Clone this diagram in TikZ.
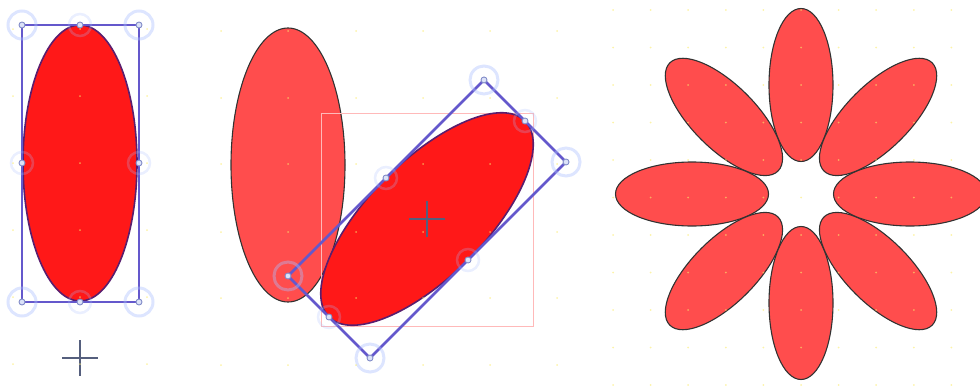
\documentclass[tikz,border=0pt]{standalone}
\usepackage{tikz}

\definecolor{boxblue}{RGB}{100,88,204}
\definecolor{haloblue}{RGB}{170,190,255}
\definecolor{gripline}{RGB}{130,140,200}
\definecolor{gripfill}{RGB}{220,226,248}
\definecolor{selred}{RGB}{255,24,24}
\definecolor{petalred}{RGB}{255,77,77}
\definecolor{rimpurple}{RGB}{90,30,110}
\definecolor{rimgray}{RGB}{50,50,50}
\definecolor{pinkline}{RGB}{255,185,185}
\definecolor{pinblue}{RGB}{85,95,125}
\definecolor{griddot}{RGB}{250,235,110}

\begin{document}
\begin{tikzpicture}[x=1pt,y=-1pt,
  frame/.style={draw=boxblue,line width=2.6pt},
  selected/.style={fill=selred,draw=rimpurple,line width=1.6pt},
  petal/.style={fill=petalred,draw=rimgray,line width=1.1pt},
  halo/.style={draw=haloblue,line width=3pt,opacity=0.4},
  smallhalo/.style={draw=haloblue,line width=2.5pt,opacity=0.25},
  grip/.style={fill=gripfill,draw=gripline,line width=0.9pt},
  pin/.style={draw=pinblue,line width=2.4pt},
  gridpt/.style={fill=griddot,opacity=0.6}
]
\useasboundingbox (0,0) rectangle (980,388);
\clip (0,0) rectangle (980,388);

% left: plain selection
\coordinate (lc) at (80,163);
\coordinate (lpin) at (80,358);
\filldraw[selected] (lc) ellipse [x radius=57, y radius=138];
\draw[frame] (22,25) rectangle (139,302);
\foreach \p in {(22,25),(139,25),(22,302),(139,302)}
  \draw[halo] \p circle (14);
\foreach \p in {(80,25),(22,163),(139,163),(80,302)}
  \draw[smallhalo] \p circle (11);
\foreach \p in {(22,25),(80,25),(139,25),(22,163),(139,163),(22,302),(80,302),(139,302)}
  \filldraw[grip] \p circle (3);
\draw[pin] (lpin) +(-18,0) -- +(18,0) (lpin) +(0,-18) -- +(0,18);

% middle: copy and rotated copy
\coordinate (mc) at (427,219);
\filldraw[petal] (288,165) ellipse [x radius=57, y radius=137];
\draw[pinkline,line width=0.8pt] (321,113) rectangle (533,326);
\begin{scope}[shift={(mc)},rotate=-45]
  \filldraw[selected] (0,0) ellipse [x radius=58, y radius=138.6];
  \draw[frame] (-58,-138.6) rectangle (58,138.6);
  \foreach \p in {(-58,-138.6),(58,-138.6),(-58,138.6),(58,138.6)}
    \draw[halo] \p circle (14);
  \foreach \p in {(0,-138.6),(0,138.6),(-58,0),(58,0)}
    \draw[smallhalo] \p circle (11);
  \foreach \p in {(-58,-138.6),(58,-138.6),(-58,138.6),(58,138.6),
                  (0,-138.6),(0,138.6),(-58,0),(58,0)}
    \filldraw[grip] \p circle (3);
\end{scope}
\draw[pin] (mc) +(-18,0) -- +(18,0) (mc) +(0,-18) -- +(0,18);

% right: eight petals
\coordinate (fc) at (801,194);
\begin{scope}[shift={(fc)}]
  \foreach \a in {0,45,...,315}
    \filldraw[petal,rotate=\a] (0,-109) ellipse [x radius=32, y radius=76.5];
\end{scope}

% background dots
\foreach \x in {13,80,147} \foreach \y in {29,96,163,230,297,364}
  \fill[gridpt] (\x,\y) circle (1);
\foreach \x in {221,288,356,423,490,557} \foreach \y in {31,98,164,232,298,365}
  \fill[gridpt] (\x,\y) circle (1);
\foreach \i in {0,...,9} \foreach \j in {0,...,10}
  \fill[gridpt] (613+37.6*\i,10+37.5*\j) circle (1);
\end{tikzpicture}
\end{document}
